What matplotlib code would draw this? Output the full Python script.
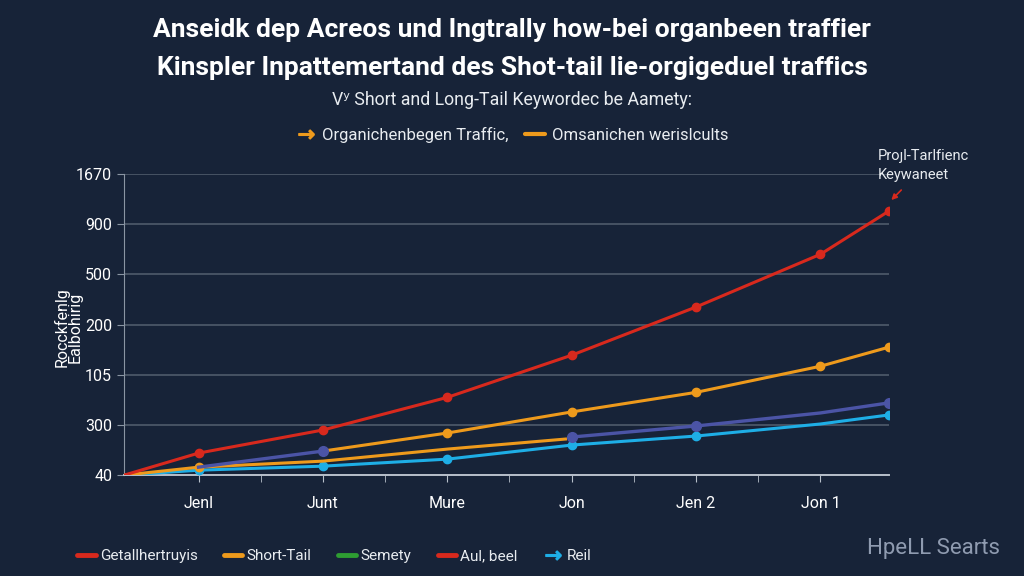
import numpy as np
import matplotlib.pyplot as plt
from matplotlib.lines import Line2D


BG = "#172338"
GRID = "#4f5b6b"
RED = "#d8291d"
ORANGE = "#ee9a1c"
PURPLE = "#4b54a6"
CYAN = "#1eaee6"
GREEN = "#2e9d32"

# x positions in month units (1 = "Jenl" ... 6 = "Jon 1")
x_labels = ["Jenl", "Junt", "Mure", "Jon", "Jen 2", "Jon 1"]
y_labels = ["40", "300", "105", "200", "500", "900", "1670"]

red_x = [0.4, 1, 2, 3, 4, 5, 6, 6.55]
red_y = [0.0, 0.44, 0.90, 1.55, 2.39, 3.35, 4.40, 5.26]

orange_hi_x = [2, 3, 4, 5, 6, 6.55]
orange_hi_y = [0.48, 0.84, 1.26, 1.65, 2.17, 2.55]

orange_lo_x = [0.4, 1, 2, 3, 3.95]
orange_lo_y = [0.0, 0.16, 0.28, 0.52, 0.72]

purple_x = [1, 2, np.nan, 4, 5, 6, 6.55]
purple_y = [0.16, 0.48, np.nan, 0.76, 0.98, 1.24, 1.44]

cyan_x = [0.4, 1, 2, 3, 4, 5, 6, 6.55]
cyan_y = [0.0, 0.10, 0.18, 0.32, 0.60, 0.78, 1.02, 1.20]

plt.rcParams["font.family"] = ["Roboto", "DejaVu Sans"]

fig = plt.figure(figsize=(10.24, 5.76), dpi=100, facecolor=BG)
ax = fig.add_axes([0.121, 0.175, 0.747, 0.523], facecolor=BG)

ax.plot(cyan_x, cyan_y, color=CYAN, lw=2.2, marker="o", ms=6, markevery=[1, 2, 3, 4, 5, 7], zorder=3)
ax.plot(orange_lo_x, orange_lo_y, color=ORANGE, lw=2.2, marker="o", ms=6, markevery=[1], zorder=3)
ax.plot(purple_x, purple_y, color=PURPLE, lw=2.4, marker="o", ms=7, markevery=[1, 3, 4, 6], zorder=4)
ax.plot(orange_hi_x, orange_hi_y, color=ORANGE, lw=2.2, marker="o", ms=6, markevery=[1, 2, 3, 4, 5], zorder=3)
ax.plot(red_x, red_y, color=RED, lw=2.2, marker="o", ms=6, markevery=[1, 2, 3, 4, 5, 6, 7], zorder=5)

ax.set_xlim(0.4, 6.55)
ax.set_ylim(0, 6)
ax.set_yticks(range(len(y_labels)))
ax.set_yticklabels(y_labels)
ax.set_xticks(range(1, len(x_labels) + 1))
ax.set_xticklabels(x_labels)
ax.set_xticks(np.arange(1.5, 6.0, 1.0), minor=True)

ax.grid(axis="y", color=GRID, lw=1.2)
ax.set_axisbelow(True)
for side in ["top", "right"]:
    ax.spines[side].set_visible(False)
ax.spines["left"].set_color("#8a95a3")
ax.spines["bottom"].set_color("#b8c0ca")
ax.spines["bottom"].set_linewidth(1.4)
ax.tick_params(axis="y", colors="#8a95a3", labelcolor="white", labelsize=11.5, length=5)
ax.tick_params(axis="x", which="both", colors="#b8c0ca", labelcolor="white", labelsize=11.5, length=5, pad=10)

ax.set_ylabel("Rocckfenlg\nEalbohirig", color="white", fontsize=11.5, linespacing=0.85)
ax.yaxis.set_label_coords(-0.054, 0.49)

# title block
fig.text(0.5, 0.948, "Anseidk dep Acreos und Ingtrally how-bei organbeen traffier",
         ha="center", va="center", color="white", fontsize=19, weight="bold")
fig.text(0.5, 0.882, "Kinspler Inpattemertand des Shot-tail lie-orgigeduel traffics",
         ha="center", va="center", color="white", fontsize=19, weight="bold")
fig.text(0.5, 0.827, "Vʸ Short and Long-Tail Keywordec be Aamety:",
         ha="center", va="center", color="#e8ecf0", fontsize=12.8)

top_handles = [
    Line2D([], [], color=ORANGE, marker="$\\rightarrow$", ms=11, lw=0),
    Line2D([], [], color=ORANGE, lw=3, solid_capstyle="round"),
]
fig.legend(top_handles, ["Organichenbegen Traffic,", "Omsanichen werislcults"],
           loc="center", bbox_to_anchor=(0.5, 0.766), ncol=2, frameon=False,
           fontsize=12, labelcolor="#e8ecf0", handlelength=1.2, handletextpad=0.4,
           columnspacing=1.0)

# callout at end of red line
fig.text(0.857, 0.713, "Proȷl-Tarlfienc\nKeywaneet", color="#e8ecf0", fontsize=10.5,
         ha="left", va="center", linespacing=1.5)
ax.annotate("", xy=(red_x[-1] + 0.02, red_y[-1] + 0.22), xytext=(red_x[-1] + 0.1, red_y[-1] + 0.42),
            arrowprops=dict(arrowstyle="-|>", color=RED, lw=1.2, mutation_scale=8,
                            shrinkA=0, shrinkB=0),
            annotation_clip=False)

bottom_handles = [
    Line2D([], [], color=RED, lw=3.5, solid_capstyle="round"),
    Line2D([], [], color=ORANGE, lw=3.5, solid_capstyle="round"),
    Line2D([], [], color=GREEN, lw=3.5, solid_capstyle="round"),
    Line2D([], [], color=RED, lw=3.5, solid_capstyle="round"),
    Line2D([], [], color=CYAN, marker="$\\rightarrow$", ms=11, lw=0),
]
fig.legend(bottom_handles, ["Getallhertruyis", "Short-Tail", "Semety", "Aul, beel", "Reil"],
           loc="center left", bbox_to_anchor=(0.062, 0.034), ncol=5, frameon=False,
           fontsize=11, labelcolor="#e8ecf0", handlelength=1.2, handletextpad=0.3,
           columnspacing=1.7)

fig.text(0.977, 0.048, "HpeLL Searts", ha="right", va="center", color="#8f9bb0", fontsize=16)

fig.savefig("out.png", dpi=100, facecolor=BG)
